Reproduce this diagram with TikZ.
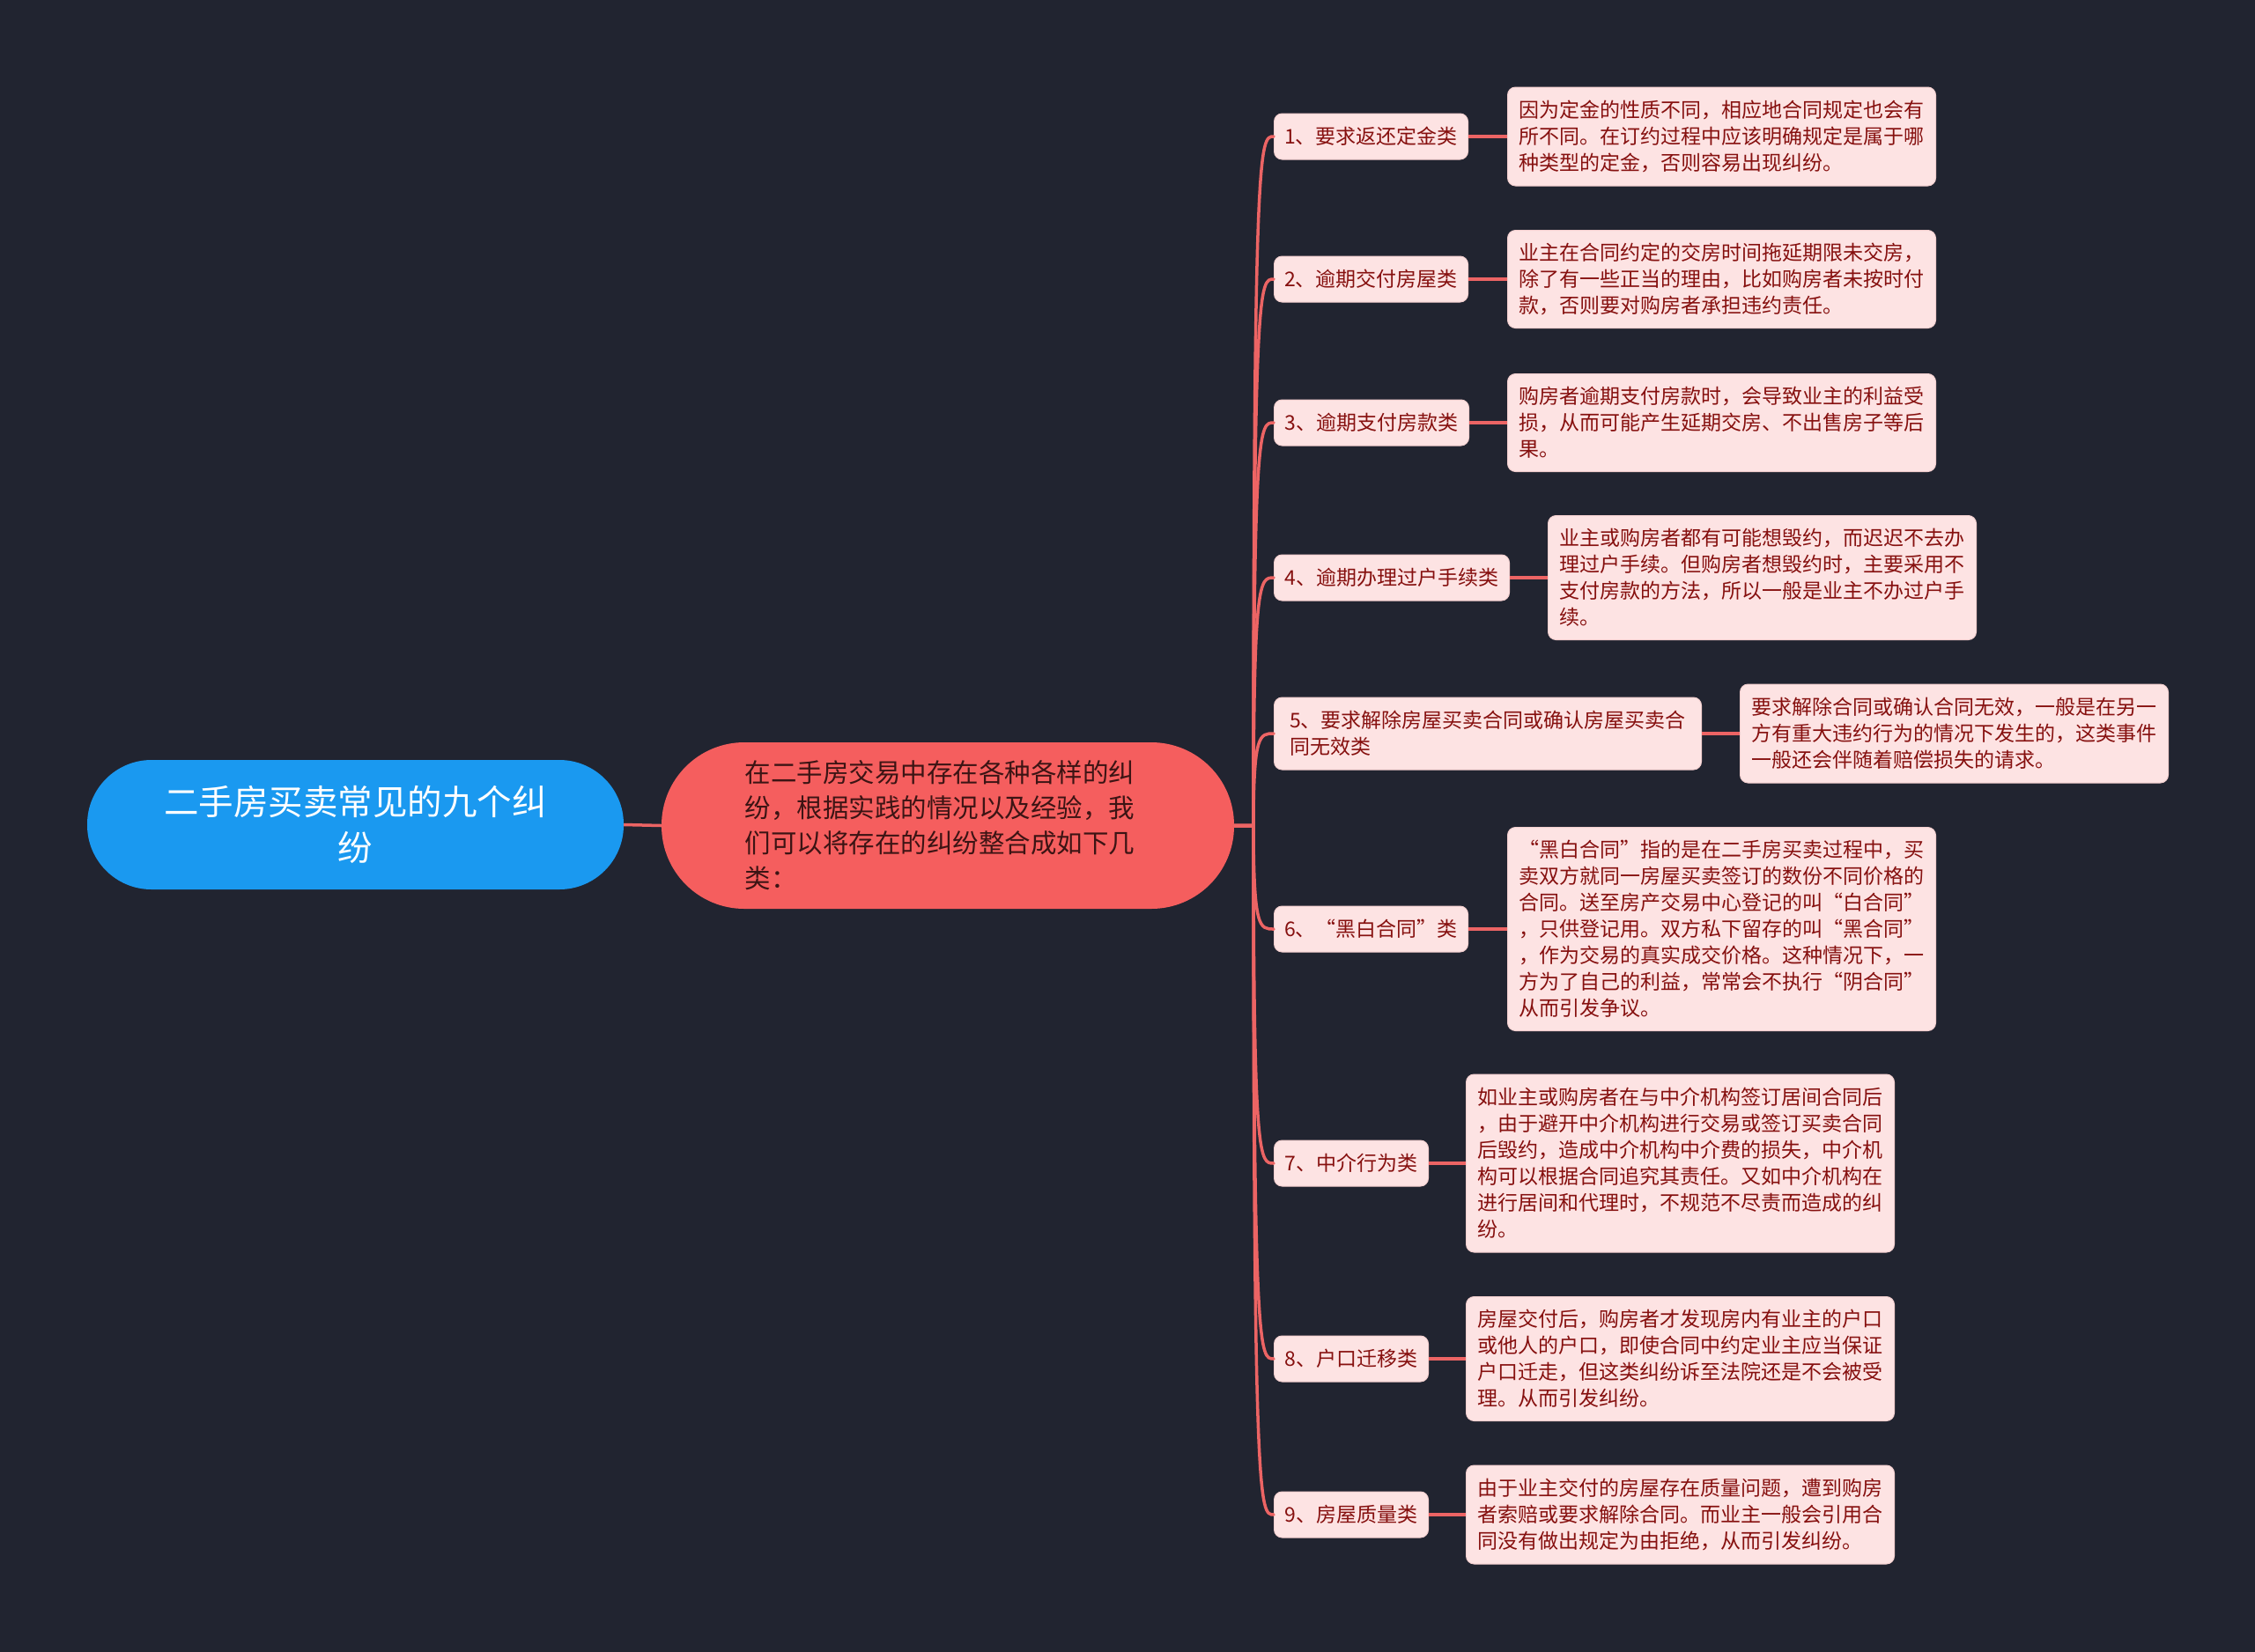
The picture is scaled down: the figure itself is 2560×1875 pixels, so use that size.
\documentclass[tikz,border=0pt]{standalone}
\usepackage{fontspec}
\setmainfont{Noto Sans CJK SC}
\usetikzlibrary{calc}
\definecolor{bg}{HTML}{212430}
\definecolor{rootfill}{HTML}{1A99F0}
\definecolor{mainfill}{HTML}{F55E5E}
\definecolor{maintext}{HTML}{3C1414}
\definecolor{linecol}{HTML}{EC6464}
\definecolor{boxfill}{HTML}{FDE3E3}
\definecolor{boxline}{HTML}{F3CFCF}
\definecolor{boxtext}{HTML}{86100F}
\tikzset{
  rootbox/.style={fill=rootfill, text=white, rounded corners=73pt, align=center,
    font=\fontsize{39.5}{52}\selectfont, inner sep=0pt},
  mainbox/.style={fill=mainfill, text=maintext, rounded corners=94pt, align=left,
    font=\fontsize{29.5}{40}\selectfont, inner sep=0pt},
  branchbox/.style={fill=boxfill, draw=boxline, line width=1pt, text=boxtext, rounded corners=9pt,
    font=\fontsize{23}{30}\selectfont, inner xsep=11pt, inner ysep=6pt, anchor=west, align=left},
  detailbox/.style={branchbox, inner xsep=13pt},
  conn/.style={draw=linecol, line width=3.5pt},
  leafconn/.style={draw=linecol, line width=4.5pt},
}
\begin{document}
\begin{tikzpicture}[x=1pt,y=-1pt]
\useasboundingbox (0,0) rectangle (2560,1875);
\fill[bg] (-10,-10) rectangle (2570,1885);

% root and main
\node[rootbox, minimum width=609pt, minimum height=147pt] (root) at (403.5,936.5) {二手房买卖常见的九个纠\\纷};
\node[mainbox, minimum width=650pt, minimum height=189pt] (main) at (1076,937.5) {在二手房交易中存在各种各样的纠\hspace*{18pt}\\纷，根据实践的情况以及经验，我\\们可以将存在的纠纷整合成如下几\\类：};

% branch nodes
\node[branchbox, minimum width=220pt, minimum height=52pt] (b1) at (1446,155) {1、要求返还定金类};
\node[branchbox, minimum width=220pt, minimum height=52pt] (b2) at (1446,317) {2、逾期交付房屋类};
\node[branchbox, minimum width=221pt, minimum height=52pt] (b3) at (1446,480) {3、逾期支付房款类};
\node[branchbox, minimum width=267pt, minimum height=52pt] (b4) at (1446,656) {4、逾期办理过户手续类};
\node[branchbox, minimum width=485pt, minimum height=82pt] (b5) at (1446,833) {5、要求解除房屋买卖合同或确认房屋买卖合\\同无效类};
\node[branchbox, minimum width=220pt, minimum height=52pt] (b6) at (1446,1055) {6、“黑白合同”类};
\node[branchbox, minimum width=175pt, minimum height=52pt] (b7) at (1446,1321) {7、中介行为类};
\node[branchbox, minimum width=175pt, minimum height=52pt] (b8) at (1446,1543) {8、户口迁移类};
\node[branchbox, minimum width=175pt, minimum height=52pt] (b9) at (1446,1720) {9、房屋质量类};

% detail nodes
\node[detailbox, minimum width=485pt, minimum height=112pt] (d1) at (1711,155) {因为定金的性质不同，相应地合同规定也会有\\所不同。在订约过程中应该明确规定是属于哪\\种类型的定金，否则容易出现纠纷。};
\node[detailbox, minimum width=485pt, minimum height=111pt] (d2) at (1711,317) {业主在合同约定的交房时间拖延期限未交房，\\除了有一些正当的理由，比如购房者未按时付\\款，否则要对购房者承担违约责任。};
\node[detailbox, minimum width=485pt, minimum height=111pt] (d3) at (1711,480) {购房者逾期支付房款时，会导致业主的利益受\\损，从而可能产生延期交房、不出售房子等后\\果。};
\node[detailbox, minimum width=486pt, minimum height=141pt] (d4) at (1757,656) {业主或购房者都有可能想毁约，而迟迟不去办\\理过户手续。但购房者想毁约时，主要采用不\\支付房款的方法，所以一般是业主不办过户手\\续。};
\node[detailbox, minimum width=481pt, minimum height=112pt] (d5) at (1975,833) {要求解除合同或确认合同无效，一般是在另一\\方有重大违约行为的情况下发生的，这类事件\\一般还会伴随着赔偿损失的请求。};
\node[detailbox, minimum width=485pt, minimum height=231pt] (d6) at (1711,1055) {“黑白合同”指的是在二手房买卖过程中，买\\卖双方就同一房屋买卖签订的数份不同价格的\\合同。送至房产交易中心登记的叫“白合同”\\，只供登记用。双方私下留存的叫“黑合同”\\，作为交易的真实成交价格。这种情况下，一\\方为了自己的利益，常常会不执行“阴合同”\\从而引发争议。};
\node[detailbox, minimum width=486pt, minimum height=202pt] (d7) at (1664,1321) {如业主或购房者在与中介机构签订居间合同后\\，由于避开中介机构进行交易或签订买卖合同\\后毁约，造成中介机构中介费的损失，中介机\\构可以根据合同追究其责任。又如中介机构在\\进行居间和代理时，不规范不尽责而造成的纠\\纷。};
\node[detailbox, minimum width=486pt, minimum height=141pt] (d8) at (1664,1543) {房屋交付后，购房者才发现房内有业主的户口\\或他人的户口，即使合同中约定业主应当保证\\户口迁走，但这类纠纷诉至法院还是不会被受\\理。从而引发纠纷。};
\node[detailbox, minimum width=486pt, minimum height=112pt] (d9) at (1664,1720) {由于业主交付的房屋存在质量问题，遭到购房\\者索赔或要求解除合同。而业主一般会引用合\\同没有做出规定为由拒绝，从而引发纠纷。};

% connectors
\coordinate (tr) at (1423,937.5);
\draw[conn] (root.east) -- (main.west);
\foreach \b in {b1,b2,b3,b4,b5,b6,b7,b8,b9}{
  \draw[conn, line cap=round] (main.east) -- (tr) .. controls (tr |- \b.west) and ($(\b.west)+(-16,0)$) .. (\b.west);
}
\foreach \i in {1,...,9}{
  \draw[leafconn] (b\i.east) -- (d\i.west);
}
\end{tikzpicture}
\end{document}
